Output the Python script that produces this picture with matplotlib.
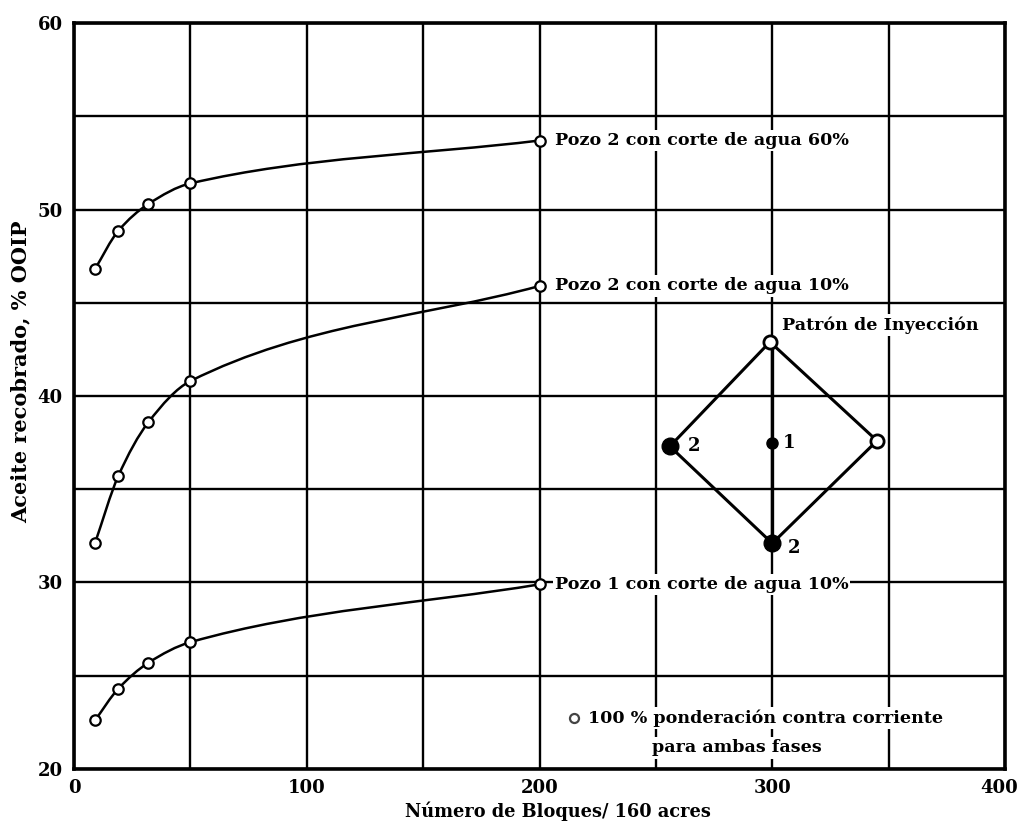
import numpy as np
import matplotlib
matplotlib.use("Agg")
import matplotlib.pyplot as plt
from matplotlib.path import Path
from matplotlib.patches import PathPatch
from matplotlib.transforms import ScaledTranslation

# data
bloques = [9, 19, 32, 50, 200]
pozo2_60 = [46.8, 48.85, 50.3, 51.4, 53.7]
pozo2_10 = [32.1, 35.7, 38.6, 40.8, 45.9]
pozo1_10 = [22.6, 24.3, 25.7, 26.8, 29.9]
etiquetas = ["Pozo 2 con corte de agua 60%",
             "Pozo 2 con corte de agua 10%",
             "Pozo 1 con corte de agua 10%"]

# injection pattern sketch (top, left, bottom, right)
patron_x = [299, 256, 300, 345]
patron_y = [42.9, 37.3, 32.1, 37.6]
centro = (300, 37.5)

xticks = [0, 100, 200, 300, 400]
yticks = [20, 30, 40, 50, 60]

plt.rcParams['font.family'] = 'DejaVu Serif'
plt.rcParams['font.weight'] = 'bold'


def smooth(xs, ys):
    # monotone cubic as bezier path, ends use secant slope
    xs = np.asarray(xs, float); ys = np.asarray(ys, float)
    h = np.diff(xs); d = np.diff(ys) / h
    m = np.zeros(len(xs))
    m[0] = d[0]; m[-1] = d[-1]
    for i in range(1, len(xs) - 1):
        if d[i-1] * d[i] > 0:
            w1 = 2*h[i] + h[i-1]; w2 = h[i] + 2*h[i-1]
            m[i] = (w1 + w2) / (w1/d[i-1] + w2/d[i])
    verts = [(xs[0], ys[0])]; codes = [Path.MOVETO]
    for i in range(len(xs) - 1):
        verts += [(xs[i] + h[i]/3, ys[i] + m[i]*h[i]/3),
                  (xs[i+1] - h[i]/3, ys[i+1] - m[i+1]*h[i]/3),
                  (xs[i+1], ys[i+1])]
        codes += [Path.CURVE4]*3
    return Path(verts, codes)


fig = plt.figure(figsize=(10.19, 8.22), dpi=100)
ax = fig.add_axes([0.0726, 0.0645, 0.9137, 0.9075])
ax.set_xlim(0, 400)
ax.set_ylim(20, 60)

ax.set_xticks(xticks)
ax.set_yticks(yticks)
ax.set_xticks(np.arange(0, 401, 50), minor=True)
ax.set_yticks(np.arange(20, 61, 5), minor=True)
ax.grid(True, which='both', color='black', lw=1.7)
ax.set_axisbelow(True)
ax.tick_params(which='both', length=0)
ax.tick_params(axis='y', pad=8, labelsize=13)
ax.tick_params(axis='x', pad=7, labelsize=13)
for s in ax.spines.values():
    s.set_linewidth(2.6)
# keep "400" inside the figure
last = ax.get_xticklabels()[-1]
last.set_transform(last.get_transform() + ScaledTranslation(-6/100, 0, fig.dpi_scale_trans))

for ys, lab in zip([pozo2_60, pozo2_10, pozo1_10], etiquetas):
    ax.add_patch(PathPatch(smooth(bloques, ys), fill=False, lw=1.8, color='black', zorder=3))
    ax.plot(bloques, ys, 'o', ms=7.5, mfc='white', mec='black', mew=1.6, zorder=4)
    ax.text(bloques[-1] + 6.5, ys[-1], lab, fontsize=12.6, va='center', ha='left', zorder=5,
            bbox=dict(fc='white', ec='none', pad=1.5))

# pattern
px = patron_x + [patron_x[0]]
py = patron_y + [patron_y[0]]
ax.plot(px, py, color='black', lw=2.2, zorder=3)
ax.plot([centro[0], centro[0]], [patron_y[0], patron_y[2]], color='black', lw=2.4, zorder=3)
ax.plot([patron_x[0], patron_x[3]], [patron_y[0], patron_y[3]], 'o', ms=9.5, mfc='white', mec='black', mew=2, zorder=4)
ax.plot([patron_x[1], patron_x[2]], [patron_y[1], patron_y[2]], 'o', ms=12, color='black', zorder=4)
ax.plot(*centro, 'o', ms=8, color='black', zorder=4)
ax.text(patron_x[1] + 7.5, patron_y[1], "2", fontsize=13, va='center', ha='left')
ax.text(centro[0] + 4.5, centro[1], "1", fontsize=13, va='center', ha='left')
ax.text(patron_x[2] + 6.5, patron_y[2] - 0.25, "2", fontsize=13, va='center', ha='left')
ax.text(304, 43.8, "Patrón de Inyección", fontsize=12.6, va='center', ha='left', zorder=5,
        bbox=dict(fc='white', ec='none', pad=1.5))

# legend note
ax.plot(214.8, 22.73, 'o', ms=6.5, mfc='white', mec='#444444', mew=1.6, zorder=5)
ax.text(220.8, 22.73, "100 % ponderación contra corriente", fontsize=12.6, va='center', ha='left',
        zorder=5, bbox=dict(fc='white', ec='none', pad=1.5))
ax.text(285, 21.13, "para ambas fases", fontsize=12.6, va='center', ha='center',
        zorder=5, bbox=dict(fc='white', ec='none', pad=1.5))

ax.set_xlabel("Número de Bloques/ 160 acres", fontsize=12.8, fontweight='bold')
ax.set_ylabel("Aceite recobrado, % OOIP", fontsize=15, fontweight='bold')
ax.xaxis.set_label_coords(0.52, -0.043)
ax.yaxis.set_label_coords(-0.047, 0.532)

fig.savefig("out.png", dpi=100)
